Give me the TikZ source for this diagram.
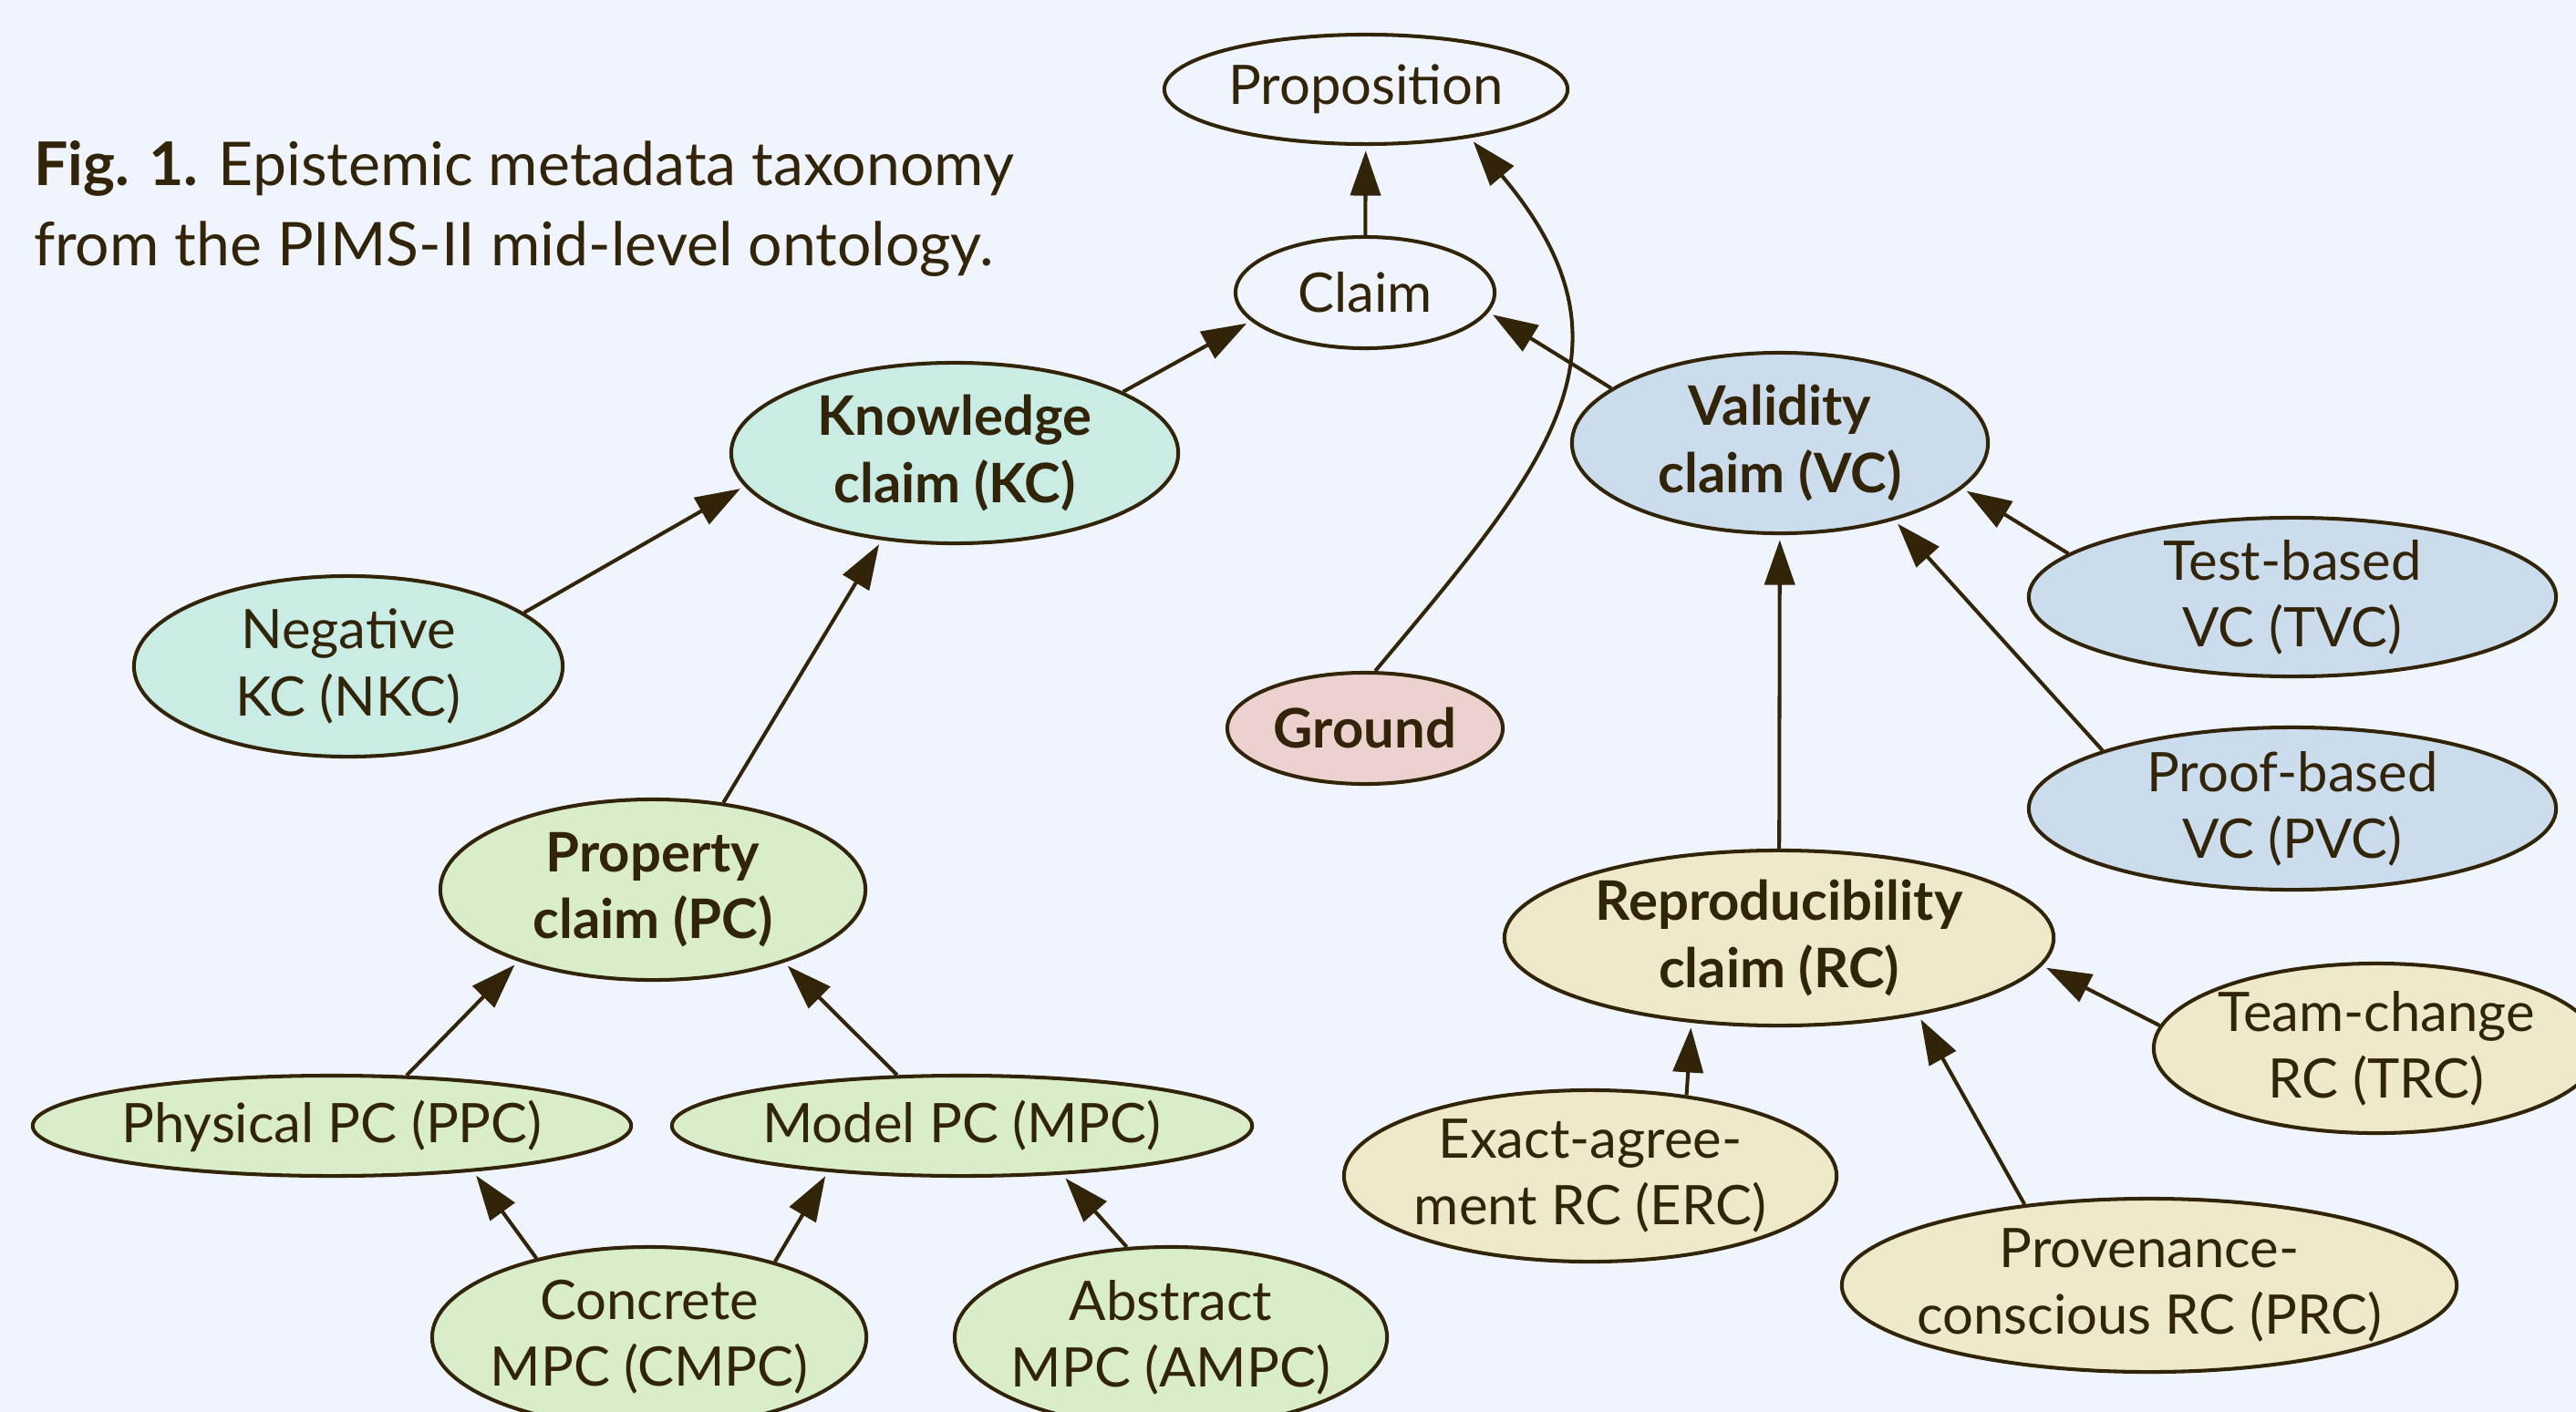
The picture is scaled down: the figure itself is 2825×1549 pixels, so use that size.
\documentclass[tikz,border=0pt]{standalone}
\usepackage{fontspec}
\setmainfont{Lato}
\usetikzlibrary{shapes.geometric, arrows.meta}
\definecolor{ink}{HTML}{322409}
\definecolor{bgcol}{HTML}{F0F5FD}
\definecolor{kcfill}{HTML}{C9ECE4}
\definecolor{vcfill}{HTML}{CBDCEC}
\definecolor{groundfill}{HTML}{EDD1CF}
\definecolor{rcfill}{HTML}{EDE9C9}
\definecolor{pcfill}{HTML}{DAEDCB}
\tikzset{
  cls/.style={ellipse, draw=ink, line width=1.15pt, inner xsep=-1cm, inner ysep=-0.2cm, align=center, text=ink, font=\fontsize{17}{20.8}\selectfont},
  main/.style={font=\fontsize{17}{20.8}\selectfont\bfseries},
  plain/.style={cls, fill=bgcol},
  kcnode/.style={cls, fill=kcfill},
  vcnode/.style={cls, fill=vcfill},
  groundnode/.style={cls, fill=groundfill},
  rcnode/.style={cls, fill=rcfill},
  pcnode/.style={cls, fill=pcfill}
}
\begin{document}
\begin{tikzpicture}[x=0.01cm, y=0.01cm, >={Triangle[length=14pt, width=9.4pt]}, line width=1.15pt, color=ink, link/.style={->, shorten >=1.5pt}]
\fill[bgcol] (0,0) rectangle (2825,-1549);
\useasboundingbox (0,0) rectangle (2825,-1549);
\node (caption) at (35,-292) [anchor=base west, align=left, inner sep=0pt, text=ink, font=\fontsize{18.8}{25.3}\selectfont] {\textbf{Fig. 1.} Epistemic metadata taxonomy\\from the PIMS-II mid-level ontology.};
% top of the tree
\node (prop) at (1498,-98) [plain, minimum width=4.42cm, minimum height=1.2cm] {Proposition};
\node (claim) at (1497,-321) [plain, minimum width=2.84cm, minimum height=1.22cm] {Claim};
\node (ground) at (1497,-799) [groundnode, main, minimum width=3.02cm, minimum height=1.22cm] {Ground};
% knowledge claims
\node (kc) at (1047,-497) [kcnode, main, minimum width=4.9cm, minimum height=1.98cm] {Knowledge\\claim (KC)};
\node (nkc) at (382,-731) [kcnode, minimum width=4.7cm, minimum height=1.98cm] {Negative\\KC (NKC)};
\node (pc) at (716,-976) [pcnode, main, minimum width=4.66cm, minimum height=1.98cm] {Property\\claim (PC)};
\node (ppc) at (364,-1235) [pcnode, minimum width=6.56cm, minimum height=1.1cm] {Physical PC (PPC)};
\node (mpc) at (1055,-1235) [pcnode, minimum width=6.36cm, minimum height=1.1cm] {Model PC (MPC)};
\node (cmpc) at (712,-1467) [pcnode, minimum width=4.76cm, minimum height=1.98cm] {Concrete\\MPC (CMPC)};
\node (ampc) at (1284,-1467) [pcnode, minimum width=4.74cm, minimum height=1.98cm] {Abstract\\MPC (AMPC)};
% validity claims
\node (vc) at (1952,-486) [vcnode, main, minimum width=4.56cm, minimum height=1.98cm] {Validity\\claim (VC)};
\node (tvc) at (2514,-655) [vcnode, minimum width=5.78cm, minimum height=1.74cm] {Test-based\\VC (TVC)};
\node (pvc) at (2514,-887) [vcnode, minimum width=5.78cm, minimum height=1.78cm] {Proof-based\\VC (PVC)};
\node (rc) at (1951,-1029) [rcnode, main, minimum width=6.02cm, minimum height=1.92cm] {Reproducibility\\claim (RC)};
\node (erc) at (1744,-1290) [rcnode, minimum width=5.4cm, minimum height=1.88cm] {Exact-agree-\\ment RC (ERC)};
\node (prc) at (2357,-1410) [rcnode, minimum width=6.74cm, minimum height=1.9cm] {Provenance-\\conscious RC (PRC)};
\node (trc) at (2606,-1150) [rcnode, minimum width=4.88cm, minimum height=1.86cm] {Team-change\\RC (TRC)};
% is-a links
\draw[link] (claim) -- (prop);
\draw[link] (ground.80) to[out=50, in=-50, looseness=1.3] (prop.-25);
\draw[link] (kc.20) -- (claim.194);
\draw[link] (vc.162) -- (claim.-9);
\draw[link] (nkc.17) -- (kc.189);
\draw[link] (pc.51) -- (kc.230);
\draw[link] (tvc.169) -- (vc.-14);
\draw[link] (pvc.163) -- (vc.-34);
\draw[link] (rc) -- (vc);
\draw[link] (ppc.34) -- (pc.208);
\draw[link] (mpc.142) -- (pc.-29);
\draw[link] (cmpc.145) -- (ppc.-18);
\draw[link] (cmpc.31) -- (mpc.199);
\draw[link] (ampc.116) -- (mpc.-26);
\draw[link] (erc.40) -- (rc.224);
\draw[link] (prc.147) -- (rc.-29);
\draw[link] (trc.174) -- (rc.-6);
\end{tikzpicture}
\end{document}
